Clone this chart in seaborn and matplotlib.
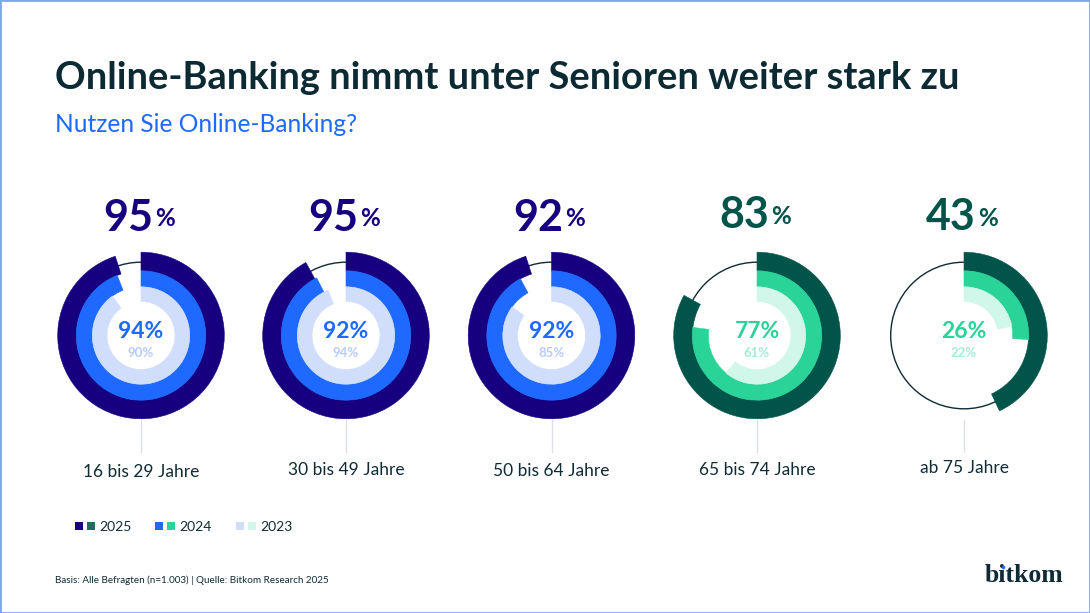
import matplotlib
matplotlib.use('Agg')
import matplotlib.pyplot as plt
from matplotlib.patches import Circle, Rectangle
import seaborn as sns

W, H = 1090, 613

# groups and printed labels
age_groups = ['16 bis 29 Jahre', '30 bis 49 Jahre', '50 bis 64 Jahre', '65 bis 74 Jahre', 'ab 75 Jahre']
labels_2025 = [95, 95, 92, 83, 43]
labels_2024 = [94, 92, 92, 77, 26]
labels_2023 = [90, 94, 85, 61, 22]

# arc lengths as drawn in the picture (donut 2 and 3 differ from their labels)
arcs_2025 = [95, 92, 95, 83, 43]
arcs_2024 = [94, 92.5, 92, 77, 26]
arcs_2023 = [90, 94, 85, 61, 22]

centers_x = [141, 346, 551.5, 757, 964]
center_y = 335.5
label_y = [472, 470, 471, 470, 468]
headline_y = [217, 217, 217, 214, 216]

blue_pal = sns.color_palette(['#170080', '#1E69FF', '#D0DEFC'])
green_pal = sns.color_palette(['#00544A', '#2AD397', '#D1F6EA'])
ink = '#0F2B36'

sns.set_theme(style='white')
plt.rcParams['font.family'] = ['Lato', 'DejaVu Sans']

fig = plt.figure(figsize=(W / 100, H / 100), dpi=100)
ax = fig.add_axes([0, 0, 1, 1])

# radius / ring width in pixels
rings = [(83.3, 18.7), (64.7, 16), (48.7, 14.7)]

for i, name in enumerate(age_groups):
    cx = centers_x[i]
    cy = H - center_y
    pal = blue_pal if i < 3 else green_pal
    ax.add_patch(Circle((cx, cy), 73.3, fill=False, ec=ink, lw=1, zorder=1))
    for j, arcs in enumerate([arcs_2025, arcs_2024, arcs_2023]):
        r, w = rings[j]
        wedges, _ = ax.pie([arcs[i], 100 - arcs[i]], colors=[pal[j], 'none'], radius=r, center=(cx, cy),
                           startangle=90, counterclock=False, frame=True,
                           wedgeprops=dict(width=w, linewidth=0))
        # hairline edge closes the seam between neighbouring rings
        wedges[0].set_edgecolor(pal[j])
        wedges[0].set_linewidth(0.4)
        for wd in wedges:
            wd.set_zorder(2)
    ax.plot([cx, cx], [H - 420, H - 452], color='#DDE1E6', lw=1, zorder=1)
    # big headline value with smaller percent sign
    ax.text(cx + 12, H - headline_y[i] - 1, str(labels_2025[i]), ha='right', va='center',
            fontsize=31, fontweight='bold', color=pal[0])
    ax.text(cx + 14, H - headline_y[i] - 2, '%', ha='left', va='center',
            fontsize=17.5, fontweight='bold', color=pal[0])
    ax.text(cx, H - 331, f'{labels_2024[i]}%', ha='center', va='center', fontsize=16.5, fontweight='bold', color=pal[1])
    ax.text(cx, H - 353, f'{labels_2023[i]}%', ha='center', va='center', fontsize=9.5, fontweight='bold',
            color='#B9CCF8' if i < 3 else '#A8EBD3')
    ax.text(cx, H - label_y[i], name, ha='center', va='center', fontsize=12.5, color=ink)

ax.set_xlim(0, W)
ax.set_ylim(0, H)
ax.set_aspect('equal')
ax.axis('off')

# title block
ax.text(55, H - 78, 'Online-Banking nimmt unter Senioren weiter stark zu', ha='left', va='center',
        fontsize=27.35, fontweight='bold', color='#0B2A33')
ax.text(55, H - 125, 'Nutzen Sie Online-Banking?', ha='left', va='center', fontsize=17.65, color='#1E69FF')

# legend
legend_years = ['2025', '2024', '2023']
legend_x = [75, 155, 236]
legend_green = ['#1F6B5F', green_pal[1], green_pal[2]]
for j, year in enumerate(legend_years):
    x = legend_x[j]
    ax.add_patch(Rectangle((x, H - 530), 8, 8, fc=blue_pal[j], lw=0))
    ax.add_patch(Rectangle((x + 12, H - 530), 8, 8, fc=legend_green[j], lw=0))
    ax.text(x + 24.5, H - 527, year, ha='left', va='center', fontsize=10, color=ink)

ax.text(55, H - 580, 'Basis: Alle Befragten (n=1.003) | Quelle: Bitkom Research 2025', ha='left', va='center',
        fontsize=7.15, color=ink)
ax.text(1063, H - 575, 'bitkom', ha='right', va='center', fontsize=18.5, fontweight='bold', family='Liberation Serif', color=ink)
ax.plot([1002.5], [H - 566.5], 'o', ms=2.6, mew=0, color='#1E69FF', zorder=5)

# thin frame around the slide
fig.patches.append(Rectangle((0, 0), 1, 1, transform=fig.transFigure, fill=False, ec='#7FA6F5', lw=2))

fig.savefig('out.png', dpi=100, facecolor='white')
